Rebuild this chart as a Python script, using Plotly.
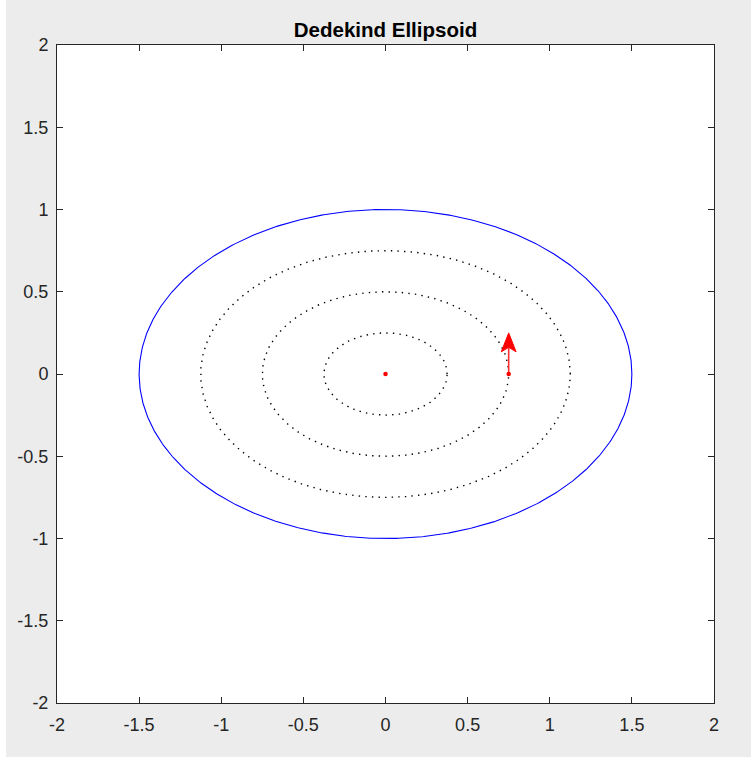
import numpy as np
import plotly.graph_objects as go

# Ellipse geometry
outer_axes = (1.5, 1.0)              # semi-axes of the boundary ellipse
level_scales = [0.25, 0.5, 0.75]     # interior level curves (fractions of the boundary)
center_pts_x = [0.0, 0.75]           # fluid particle positions
center_pts_y = [0.0, 0.0]
arrow_origin = (0.75, 0.0)           # velocity vector at the particle
arrow_vector = (0.0, 0.25)

tick_vals = [-2, -1.5, -1, -0.5, 0, 0.5, 1, 1.5, 2]
tick_text = ["-2", "-1.5", "-1", "-0.5", "0", "0.5", "1", "1.5", "2"]

theta = np.linspace(0, 2 * np.pi, 721)
a, b = outer_axes

fig = go.Figure()

for s in level_scales:
    fig.add_trace(go.Scatter(
        x=s * a * np.cos(theta), y=s * b * np.sin(theta), mode="lines",
        line=dict(color="black", width=1.4, dash="1.4px,5.2px"),
        hoverinfo="skip", showlegend=False))

fig.add_trace(go.Scatter(
    x=a * np.cos(theta), y=b * np.sin(theta), mode="lines",
    line=dict(color="#0000ff", width=1.1), hoverinfo="skip", showlegend=False))

# arrow: shaft + filled barbed head
x0, y0 = arrow_origin
dx, dy = arrow_vector
L = np.hypot(dx, dy)
ux, uy = dx / L, dy / L
px, py = -uy, ux
head_len, head_half, notch = 0.115, 0.045, 0.088
tipx, tipy = x0 + dx, y0 + dy
bx, by = tipx - head_len * ux, tipy - head_len * uy
nx, ny = tipx - notch * ux, tipy - notch * uy
fig.add_trace(go.Scatter(
    x=[x0, nx], y=[y0, ny], mode="lines",
    line=dict(color="#ff3030", width=1.6), hoverinfo="skip", showlegend=False))
fig.add_trace(go.Scatter(
    x=[tipx, bx + head_half * px, nx, bx - head_half * px, tipx],
    y=[tipy, by + head_half * py, ny, by - head_half * py, tipy],
    mode="lines", fill="toself", fillcolor="#ff0000",
    line=dict(color="#ff0000", width=1), hoverinfo="skip", showlegend=False))

fig.add_trace(go.Scatter(
    x=center_pts_x, y=center_pts_y, mode="markers",
    marker=dict(color="#ff0000", size=4.5), hoverinfo="skip", showlegend=False))

axis_common = dict(
    range=[-2, 2], tickvals=tick_vals, ticktext=tick_text,
    showgrid=False, zeroline=False, showline=True, mirror="allticks",
    linecolor="#262626", linewidth=1, ticks="inside", ticklen=6,
    tickcolor="#262626", tickwidth=1,
    tickfont=dict(family="Liberation Sans, Arial, sans-serif", size=18, color="#262626"),
)

fig.update_layout(
    width=751, height=759,
    margin=dict(l=57, r=37, t=45, b=56),
    paper_bgcolor="#ececec", plot_bgcolor="white",
    title=dict(text="<b>Dedekind Ellipsoid</b>", x=0.5133, xanchor="center",
               y=0.9605, yanchor="middle",
               font=dict(family="Liberation Sans, Arial, sans-serif", size=20.5, color="black")),
    xaxis=dict(**axis_common, ticklabelstandoff=5),
    yaxis=dict(**axis_common, ticklabelstandoff=4),
    shapes=[
        dict(type="rect", xref="paper", yref="paper",
             x0=-57 / 657, x1=-51 / 657, y0=-56 / 658, y1=703 / 658,
             fillcolor="white", line=dict(width=0), layer="below"),
        dict(type="rect", xref="paper", yref="paper",
             x0=-57 / 657, x1=694 / 657, y0=-56 / 658, y1=-54 / 658,
             fillcolor="white", line=dict(width=0), layer="below"),
    ],
)

fig.write_html("out.html")
